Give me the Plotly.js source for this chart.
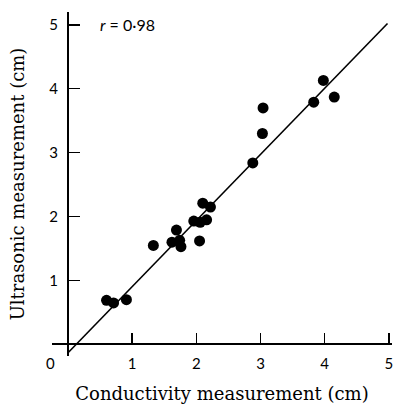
<!DOCTYPE html>
<html>
<head>
<meta charset="utf-8">
<script src="https://cdn.plot.ly/plotly-3.0.1.min.js"></script>
<style>html,body{margin:0;padding:0;background:#fff;}#chart{width:395px;height:409px;}</style>
</head>
<body>
<div id="chart"></div>
<script>
// Conductivity (x, cm) vs Ultrasonic (y, cm) measurements
const conductivity = [0.60, 0.71, 0.91, 1.33, 1.62, 1.69, 1.74, 1.76, 2.05, 1.96, 2.06, 2.16, 2.10, 2.22, 2.88, 3.03, 3.04, 3.83, 3.98, 4.15];
const ultrasonic   = [0.69, 0.65, 0.70, 1.55, 1.60, 1.79, 1.63, 1.53, 1.62, 1.93, 1.91, 1.95, 2.21, 2.15, 2.84, 3.30, 3.70, 3.79, 4.13, 3.87];
// Fitted line end points
const lineX = [0.0, 4.98];
const lineY = [-0.13, 5.02];
const tickVals = [1, 2, 3, 4, 5];
const tickText = ['1', '2', '3', '4', '5'];
const rLabel = '<i>r</i> = 0\u00b798';

const tickFont = {family: 'Lato, "DejaVu Sans", sans-serif', size: 15, color: '#000'};
const titleFont = {family: '"DejaVu Serif", serif', size: 18, color: '#000'};

const traces = [
  {x: lineX, y: lineY, mode: 'lines', line: {color: '#000', width: 1.6}, hoverinfo: 'skip', showlegend: false},
  {x: conductivity, y: ultrasonic, mode: 'markers', marker: {color: '#000', size: 11}, showlegend: false}
];

const xr = [-0.25, 5.05], yr = [-0.18, 5.2];
const layout = {
  width: 395, height: 409,
  margin: {l: 52, r: 3, t: 12, b: 53},
  paper_bgcolor: '#fff', plot_bgcolor: '#fff',
  showlegend: false,
  xaxis: {
    range: xr, anchor: 'free', position: (0 - yr[0]) / (yr[1] - yr[0]),
    showgrid: false, zeroline: false, showline: true, linecolor: '#000', linewidth: 2,
    ticks: 'inside', ticklen: 10, tickwidth: 1.5, tickcolor: '#000',
    tickvals: tickVals, ticktext: tickText, tickfont: tickFont, ticklabelstandoff: 6,
    title: {text: 'Conductivity measurement (cm)', font: titleFont, standoff: 15}
  },
  yaxis: {
    range: yr, anchor: 'free', position: (0 - xr[0]) / (xr[1] - xr[0]),
    showgrid: false, zeroline: false, showline: true, linecolor: '#000', linewidth: 2,
    ticks: 'inside', ticklen: 11, tickwidth: 1.5, tickcolor: '#000',
    tickvals: tickVals, ticktext: tickText, tickfont: tickFont, ticklabelstandoff: 6,
    title: {text: 'Ultrasonic measurement (cm)', font: titleFont, standoff: 19}
  },
  annotations: [
    {x: 0, y: 0, xref: 'x', yref: 'y', text: '0', showarrow: false, font: tickFont,
     xanchor: 'center', yanchor: 'middle', xshift: -18, yshift: -19},
    {x: 0.47, y: 5.0, xref: 'x', yref: 'y', text: rLabel, showarrow: false,
     font: {family: 'Lato, "DejaVu Sans", sans-serif', size: 16, color: '#000'}, xanchor: 'left', yanchor: 'middle'}
  ]
};

Plotly.newPlot('chart', traces, layout, {staticPlot: true, displayModeBar: false});
</script>
</body>
</html>
